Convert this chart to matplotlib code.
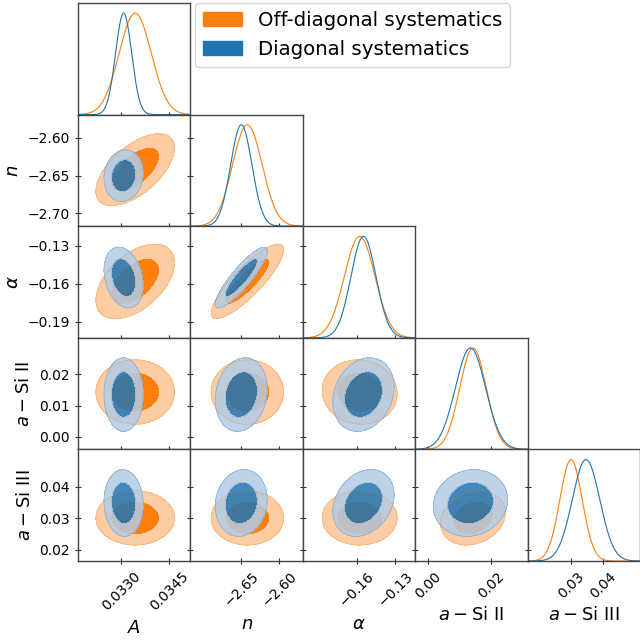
import numpy as np
import matplotlib
matplotlib.use("Agg")
import matplotlib.pyplot as plt
from matplotlib.patches import Patch

# parameters (order: A, n, alpha, Si II, Si III)
labels = ["$A$", "$n$", r"$\alpha$", r"$a-\mathrm{Si\ II}$", r"$a-\mathrm{Si\ III}$"]

off_mean = [0.03344, -2.642, -0.1580, 0.0143, 0.0301]
off_sigma = [0.00050, 0.0195, 0.0120, 0.0042, 0.0035]
diag_mean = [0.03308, -2.650, -0.1550, 0.0135, 0.0348]
diag_sigma = [0.00025, 0.0140, 0.0098, 0.0048, 0.0043]

off_corr = [
    [1.00, 0.60, 0.50, 0.00, 0.00],
    [0.60, 1.00, 0.85, 0.00, 0.00],
    [0.50, 0.85, 1.00, -0.05, 0.00],
    [0.00, 0.00, -0.05, 1.00, 0.20],
    [0.00, 0.00, 0.00, 0.20, 1.00],
]
diag_corr = [
    [1.00, 0.10, -0.25, 0.00, -0.05],
    [0.10, 1.00, 0.88, 0.15, 0.10],
    [-0.25, 0.88, 1.00, 0.20, 0.25],
    [0.00, 0.15, 0.20, 1.00, 0.10],
    [-0.05, 0.10, 0.25, 0.10, 1.00],
]

limits = [(0.03166, 0.03516), (-2.717, -2.569), (-0.2025, -0.1145),
          (-0.0040, 0.0316), (0.0165, 0.0517)]
xticks = [[0.0330, 0.0345], [-2.65, -2.60], [-0.16, -0.13], [0.00, 0.02], [0.03, 0.04]]
yticks = [[], [-2.70, -2.65, -2.60], [-0.19, -0.16, -0.13], [0.00, 0.01, 0.02], [0.02, 0.03, 0.04]]
tick_fmt = ["{:.4f}", "{:.2f}", "{:.2f}", "{:.2f}", "{:.2f}"]

ORANGE = "#ff7f0e"
ORANGE_LIGHT = "#fdcca2"
BLUE = "#1f74b2"
BLUE_LIGHT = "#b3cbe5"

series = [
    (off_mean, off_sigma, off_corr, ORANGE, ORANGE_LIGHT, 1.0),
    (diag_mean, diag_sigma, diag_corr, BLUE, BLUE_LIGHT, 0.85),
]

N = len(labels)


def fmt(t, i):
    return tick_fmt[i].format(t).replace("-", "\u2212")


fig = plt.figure(figsize=(6.4, 6.43), dpi=100)
gs = fig.add_gridspec(N, N, left=0.1219, right=1.0, top=0.9953, bottom=0.1275,
                      hspace=0, wspace=0)

for j in range(N):
    for i in range(j + 1):
        ax = fig.add_subplot(gs[j, i])
        x = np.linspace(limits[i][0], limits[i][1], 400)
        if i == j:
            for mean, sig, corr, col, light, a in series:
                p = np.exp(-0.5 * ((x - mean[i]) / sig[i]) ** 2)
                ax.plot(x, p, color=col, lw=0.8)
            ax.set_ylim(0, 1.1)
            lo, hi = limits[j]
            ax.set_yticks([(t - lo) / (hi - lo) * 1.1 for t in yticks[j]])
            ax.set_yticklabels([])
        else:
            y = np.linspace(limits[j][0], limits[j][1], 400)
            X, Y = np.meshgrid(x, y)
            for mean, sig, corr, col, light, a in series:
                rho = corr[i][j]
                dx = (X - mean[i]) / sig[i]
                dy = (Y - mean[j]) / sig[j]
                chi2 = (dx ** 2 - 2 * rho * dx * dy + dy ** 2) / (1 - rho ** 2)
                ax.contourf(X, Y, chi2, levels=[0, 2.30, 5.99],
                            colors=[col, light], alpha=a)
                ax.contour(X, Y, chi2, levels=[5.99], colors=[col],
                           linewidths=0.6, alpha=0.3)
            ax.set_ylim(limits[j])
            ax.set_yticks(yticks[j])
            if i == 0:
                ax.set_yticklabels([fmt(t, j) for t in yticks[j]], fontsize=10)
                ax.set_ylabel(labels[j], fontsize=13)
            else:
                ax.set_yticklabels([])

        ax.set_xlim(limits[i])
        ax.set_xticks(xticks[i])
        if j == N - 1:
            ax.set_xticklabels([fmt(t, i) for t in xticks[i]], fontsize=10,
                               rotation=45, ha="center")
            ax.set_xlabel(labels[i], fontsize=13)
        else:
            ax.set_xticklabels([])
        ax.tick_params(direction="inout", length=5, width=0.8, color="#333333")
        for s in ax.spines.values():
            s.set_color("#444444")
            s.set_linewidth(1.0)

handles = [Patch(facecolor=ORANGE, edgecolor=ORANGE),
           Patch(facecolor=BLUE, edgecolor=BLUE)]
fig.legend(handles, ["Off-diagonal systematics", "Diagonal systematics"],
           loc="upper left", bbox_to_anchor=(195 / 640, 1 - 3 / 643),
           borderaxespad=0, fontsize=14.2)

fig.savefig("out.png", dpi=100)
